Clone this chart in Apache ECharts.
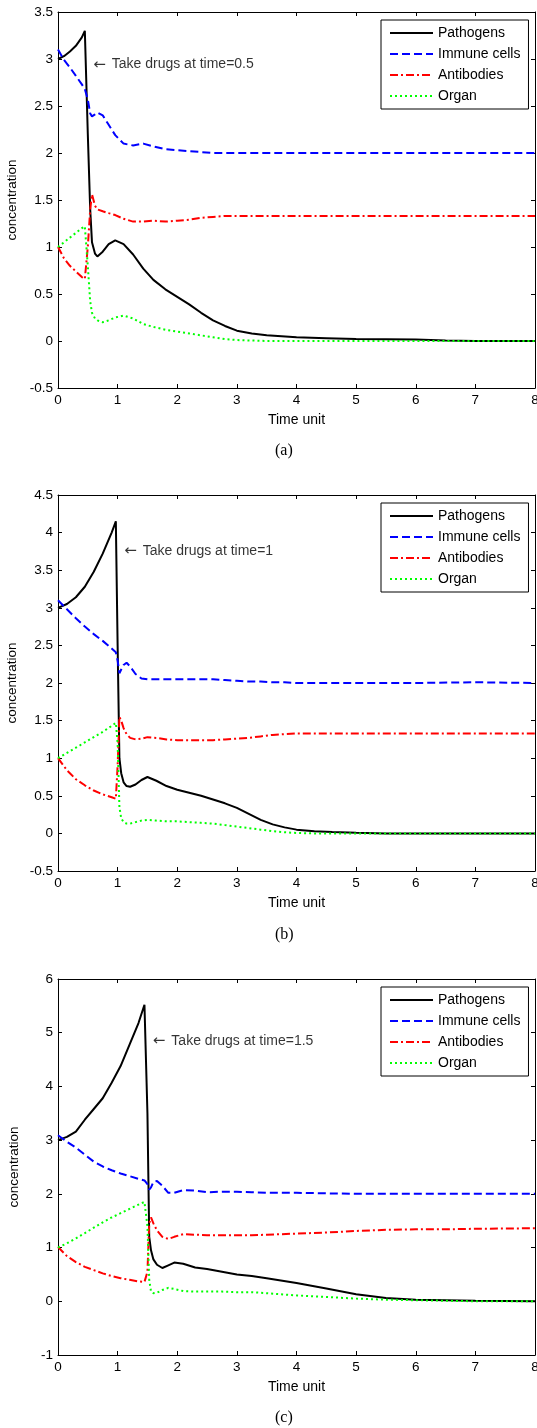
<!DOCTYPE html>
<html>
<head>
<meta charset="utf-8">
<script src="https://cdn.jsdelivr.net/npm/echarts/dist/echarts.min.js"></script>
<style>
html, body { margin: 0; padding: 0; background: #fff; }
#chart { width: 537px; height: 1428px; }
</style>
</head>
<body>
<div id="chart"></div>
<script>
// series names (legend)
const seriesNames = ['Pathogens', 'Immune cells', 'Antibodies', 'Organ']

// (a) drugs at time 0.5
const timeA = [0, 0.1, 0.2, 0.3, 0.4, 0.45, 0.5, 0.54, 0.57, 0.62, 0.66, 0.75, 0.85, 0.96, 1.1, 1.26, 1.43, 1.6, 1.8, 2.0, 2.2, 2.4, 2.6, 2.8, 3.0, 3.25, 3.5, 4.0, 4.5, 5.0, 6.0, 6.5, 7.0, 8.0]
const pathogensA = [3.00, 3.03, 3.08, 3.14, 3.23, 3.30, 2.20, 1.40, 1.05, 0.93, 0.90, 0.95, 1.03, 1.07, 1.03, 0.92, 0.77, 0.65, 0.55, 0.47, 0.39, 0.30, 0.22, 0.16, 0.11, 0.08, 0.06, 0.04, 0.03, 0.02, 0.015, 0.005, 0, 0]
const immuneA = [3.10, 2.99, 2.91, 2.82, 2.73, 2.68, 2.57, 2.42, 2.39, 2.41, 2.43, 2.40, 2.30, 2.19, 2.10, 2.08, 2.10, 2.07, 2.04, 2.03, 2.02, 2.01, 2.00, 2.00, 2.00, 2.00, 2.00, 2.00, 2.00, 2.00, 2.00, 2.00, 2.00, 2.00]
const antibodiesA = [1.00, 0.88, 0.80, 0.74, 0.68, 0.66, 1.00, 1.40, 1.56, 1.44, 1.40, 1.38, 1.36, 1.34, 1.30, 1.27, 1.27, 1.28, 1.27, 1.28, 1.29, 1.31, 1.32, 1.33, 1.33, 1.33, 1.33, 1.33, 1.33, 1.33, 1.33, 1.33, 1.33, 1.33]
const organA = [1.00, 1.05, 1.10, 1.15, 1.20, 1.22, 0.80, 0.42, 0.30, 0.24, 0.22, 0.20, 0.22, 0.25, 0.27, 0.24, 0.18, 0.15, 0.12, 0.10, 0.08, 0.06, 0.04, 0.02, 0.01, 0.005, 0, 0, 0, 0, 0, 0, 0, 0]

// (b) drugs at time 1
const timeB = [0, 0.15, 0.3, 0.45, 0.6, 0.75, 0.9, 0.97, 1.0, 1.03, 1.06, 1.1, 1.15, 1.21, 1.3, 1.4, 1.5, 1.65, 1.82, 2.0, 2.2, 2.4, 2.6, 2.8, 3.0, 3.2, 3.4, 3.6, 3.8, 4.0, 4.3, 4.6, 5.0, 5.5, 6.0, 7.0, 8.0]
const pathogensB = [3.00, 3.05, 3.14, 3.28, 3.48, 3.72, 4.00, 4.15, 2.50, 1.00, 0.80, 0.68, 0.63, 0.62, 0.65, 0.71, 0.75, 0.70, 0.63, 0.58, 0.54, 0.50, 0.45, 0.40, 0.34, 0.26, 0.18, 0.12, 0.08, 0.05, 0.03, 0.02, 0.01, 0, 0, 0, 0]
const immuneB = [3.10, 2.98, 2.86, 2.75, 2.65, 2.56, 2.46, 2.41, 2.30, 2.13, 2.18, 2.24, 2.27, 2.22, 2.12, 2.06, 2.05, 2.05, 2.05, 2.05, 2.05, 2.05, 2.05, 2.04, 2.03, 2.02, 2.02, 2.01, 2.01, 2.00, 2.00, 2.00, 2.00, 2.00, 2.00, 2.01, 2.00]
const antibodiesB = [1.00, 0.84, 0.72, 0.64, 0.57, 0.52, 0.48, 0.46, 0.90, 1.55, 1.50, 1.40, 1.32, 1.27, 1.25, 1.26, 1.28, 1.27, 1.25, 1.24, 1.24, 1.24, 1.24, 1.25, 1.26, 1.27, 1.29, 1.31, 1.32, 1.33, 1.33, 1.33, 1.33, 1.33, 1.33, 1.33, 1.33]
const organB = [1.00, 1.07, 1.14, 1.21, 1.28, 1.35, 1.43, 1.47, 1.20, 0.35, 0.20, 0.15, 0.13, 0.13, 0.15, 0.17, 0.18, 0.17, 0.16, 0.16, 0.15, 0.14, 0.13, 0.11, 0.09, 0.07, 0.05, 0.03, 0.015, 0.005, 0, 0, 0, 0, 0, 0, 0]

// (c) drugs at time 1.5
const timeC = [0, 0.15, 0.3, 0.45, 0.6, 0.75, 0.9, 1.05, 1.2, 1.35, 1.45, 1.5, 1.53, 1.56, 1.6, 1.66, 1.75, 1.85, 1.95, 2.1, 2.3, 2.5, 2.75, 3.0, 3.25, 3.5, 4.0, 4.5, 5.0, 5.5, 6.0, 6.5, 7.0, 8.0]
const pathogensC = [3.00, 3.06, 3.16, 3.38, 3.58, 3.78, 4.07, 4.38, 4.78, 5.18, 5.52, 3.50, 1.20, 0.95, 0.78, 0.68, 0.62, 0.67, 0.72, 0.70, 0.63, 0.60, 0.55, 0.50, 0.47, 0.43, 0.34, 0.24, 0.13, 0.06, 0.03, 0.02, 0.01, 0]
const immuneC = [3.09, 2.97, 2.86, 2.73, 2.60, 2.51, 2.44, 2.38, 2.33, 2.28, 2.25, 2.18, 2.08, 2.12, 2.22, 2.24, 2.15, 2.02, 2.02, 2.07, 2.06, 2.03, 2.04, 2.04, 2.03, 2.02, 2.02, 2.01, 2.00, 2.00, 2.00, 2.00, 2.00, 2.00]
const antibodiesC = [1.01, 0.84, 0.73, 0.64, 0.58, 0.52, 0.47, 0.43, 0.40, 0.37, 0.36, 0.55, 1.45, 1.56, 1.45, 1.32, 1.20, 1.16, 1.20, 1.25, 1.24, 1.23, 1.23, 1.23, 1.23, 1.24, 1.26, 1.28, 1.31, 1.33, 1.34, 1.34, 1.35, 1.36]
const organC = [1.00, 1.08, 1.17, 1.27, 1.37, 1.47, 1.56, 1.64, 1.72, 1.80, 1.85, 1.40, 0.40, 0.18, 0.15, 0.16, 0.21, 0.25, 0.23, 0.19, 0.18, 0.18, 0.18, 0.17, 0.17, 0.15, 0.11, 0.08, 0.05, 0.03, 0.02, 0.01, 0, 0]

// axes
const xTicks = {min: 0, max: 8, interval: 1}
const yMins = [-0.5, -0.5, -1]
const yMaxs = [3.5, 4.5, 6]
const yIntervals = [0.5, 0.5, 1]

// texts
const panelLabels = ['(a)', '(b)', '(c)']
const drugNotes = ['Take drugs at time=0.5', 'Take drugs at time=1', 'Take drugs at time=1.5']
const noteTimes = [0.59, 1.11, 1.59]
const noteValues = [2.94, 3.76, 4.84]

const panels = [
    {time: timeA, values: [pathogensA, immuneA, antibodiesA, organA]},
    {time: timeB, values: [pathogensB, immuneB, antibodiesB, organB]},
    {time: timeC, values: [pathogensC, immuneC, antibodiesC, organC]}
]

// layout (pixels)
const gridTops = [12, 495, 979]
const gridLeft = 58
const gridWidth = 477
const gridHeight = 376
const legendTops = [20, 503, 987]
const labelTops = [443, 927, 1410]

const lineColors = ['#000000', '#0000ff', '#ff0000', '#00ff00']
const lineTypes = ['solid', [8, 4], [8, 3, 2, 3], [2, 3]]
const font = 'Liberation Sans, Arial, sans-serif'

const chart = echarts.init(document.getElementById('chart'), null, {renderer: 'canvas'})

function pairs(time, vals) {
    return time.map((t, i) => [t, vals[i]])
}

let grids = [], xAxes = [], yAxes = [], series = [], legends = [], titles = []
for (let p = 0; p < 3; p++) {
    grids.push({left: gridLeft, top: gridTops[p], width: gridWidth, height: gridHeight, show: false, outerBoundsMode: 'none', containLabel: false})
    const axisLine = {show: true, onZero: false, lineStyle: {color: '#000', width: 1}}
    const axisTick = {show: true, inside: true, length: 4, lineStyle: {color: '#000'}}
    // bottom / top x axis
    xAxes.push({
        gridIndex: p, type: 'value', position: 'bottom',
        min: xTicks.min, max: xTicks.max, interval: xTicks.interval,
        name: 'Time unit', nameLocation: 'middle', nameGap: 25,
        nameTextStyle: {color: '#000', fontSize: 14, fontFamily: font},
        axisLine: axisLine, axisTick: axisTick, splitLine: {show: false},
        axisLabel: {color: '#000', fontSize: 13.5, fontFamily: font, margin: 5, showMaxLabel: true}
    })
    xAxes.push({
        gridIndex: p, type: 'value', position: 'top',
        min: xTicks.min, max: xTicks.max, interval: xTicks.interval,
        axisLine: axisLine, axisTick: axisTick, splitLine: {show: false}, axisLabel: {show: false}
    })
    // left / right y axis
    yAxes.push({
        gridIndex: p, type: 'value', position: 'left',
        min: yMins[p], max: yMaxs[p], interval: yIntervals[p],
        name: 'concentration', nameLocation: 'middle', nameGap: 37,
        nameTextStyle: {color: '#000', fontSize: 13.5, fontFamily: font},
        axisLine: axisLine, axisTick: axisTick, splitLine: {show: false},
        axisLabel: {color: '#000', fontSize: 13.5, fontFamily: font, margin: 5}
    })
    yAxes.push({
        gridIndex: p, type: 'value', position: 'right',
        min: yMins[p], max: yMaxs[p], interval: yIntervals[p],
        axisLine: axisLine, axisTick: axisTick, splitLine: {show: false}, axisLabel: {show: false}
    })
    for (let s = 0; s < 4; s++) {
        series.push({
            name: seriesNames[s], type: 'line',
            xAxisIndex: 2 * p, yAxisIndex: 2 * p,
            data: pairs(panels[p].time, panels[p].values[s]),
            symbol: 'none', smooth: false,
            lineStyle: {color: lineColors[s], width: 2, type: lineTypes[s]},
            itemStyle: {color: lineColors[s]}
        })
    }
    // annotation text at the drug time
    series.push({
        type: 'scatter', xAxisIndex: 2 * p, yAxisIndex: 2 * p,
        data: [[noteTimes[p], noteValues[p]]], symbolSize: 0, silent: true,
        label: {
            show: true, position: 'right', distance: 0,
            formatter: '{arrow|\u2190}' + drugNotes[p],
            color: '#000', fontSize: 14, fontFamily: font,
            rich: {arrow: {fontFamily: 'DejaVu Sans', fontSize: 15, color: '#000', padding: [0, 6, 0, 0]}}
        }
    })
    legends.push({
        data: seriesNames, orient: 'vertical', left: 381, top: legendTops[p],
        itemWidth: 43, itemHeight: 14, itemGap: 7,
        padding: [6, 8, 6, 8],
        backgroundColor: '#fff', borderColor: '#000', borderWidth: 1, borderRadius: 0,
        selectedMode: false,
        itemStyle: {opacity: 0},
        textStyle: {color: '#000', fontSize: 14, fontFamily: font}
    })
    titles.push({
        text: panelLabels[p], left: 275, top: labelTops[p], padding: 0,
        textStyle: {color: '#000', fontSize: 16, fontWeight: 'normal', fontFamily: 'Liberation Serif, Times New Roman, serif'}
    })
}

const option = {
    animation: false,
    backgroundColor: '#fff',
    title: titles,
    legend: legends,
    grid: grids,
    xAxis: xAxes,
    yAxis: yAxes,
    series: series
}
chart.setOption(option)
</script>
</body>
</html>
